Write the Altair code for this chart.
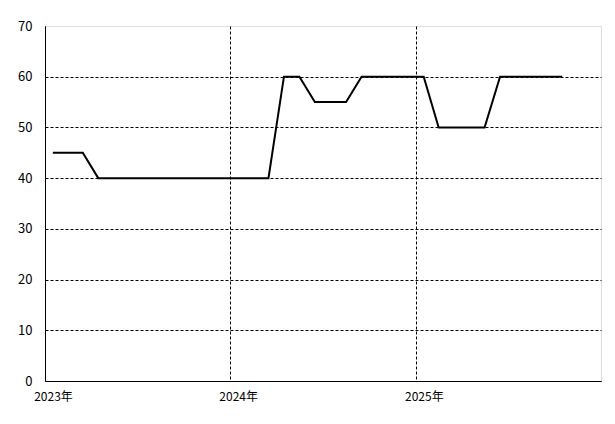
import altair as alt
import pandas as pd

months = [f"{y}-{m:02d}-01" for y in (2023, 2024, 2025) for m in range(1, 13)][:34]
values = [45, 45, 45, 40, 40, 40, 40, 40, 40, 40, 40, 40,
          40, 40, 40, 60, 60, 55, 55, 55, 60, 60, 60, 60,
          60, 50, 50, 50, 50, 60, 60, 60, 60, 60]
year_ticks = ["2023-01-01", "2024-01-01", "2025-01-01"]
y_ticks = [0, 10, 20, 30, 40, 50, 60, 70]

df = pd.DataFrame({"month": months, "value": values})

FONT = "Noto Sans CJK JP"

line = alt.Chart(df).mark_line(color="black", strokeWidth=2).encode(
    x=alt.X(
        "month:T",
        timeUnit="utcyearmonth",
        bandPosition=0.5,
        scale=alt.Scale(
            type="utc",
            domain=[
                {"year": 2023, "month": 1, "date": 1, "utc": True},
                {"year": 2026, "month": 1, "date": 1, "utc": True},
            ],
        ),
        axis=alt.Axis(
            values=[pd.Timestamp(v).isoformat() for v in year_ticks],
            format="%Y年",
            title=None,
            ticks=False,
            grid=True,
            gridColor="black",
            gridDash=[3, 2],
            gridWidth=1,
            gridOpacity=1,
            domainColor="black",
            domainWidth=1,
            labelOffset=8,
            labelPadding=10,
            labelFont=FONT,
            labelFontSize=12,
            labelColor="black",
            labelAlign="center",
        ),
    ),
    y=alt.Y(
        "value:Q",
        scale=alt.Scale(domain=[0, 70], nice=False),
        axis=alt.Axis(
            values=y_ticks,
            title=None,
            ticks=False,
            grid=True,
            gridColor="black",
            gridDash=[3, 2],
            gridWidth=1,
            gridOpacity={"condition": {"test": "datum.value >= 70", "value": 0}, "value": 1},
            domainColor="black",
            domainWidth=1,
            labelPadding=13,
            labelFont=FONT,
            labelFontSize=13,
            labelColor="black",
        ),
    ),
)

chart = line.properties(
    width=556,
    height=355,
    padding={"left": 37, "top": 18, "right": 6, "bottom": 30},
    autosize=alt.AutoSizeParams(type="none"),
).configure_view(
    stroke="#808080", strokeWidth=1
).configure(background="white")

chart.save("out.html", embed_options={"renderer": "svg", "actions": False})
